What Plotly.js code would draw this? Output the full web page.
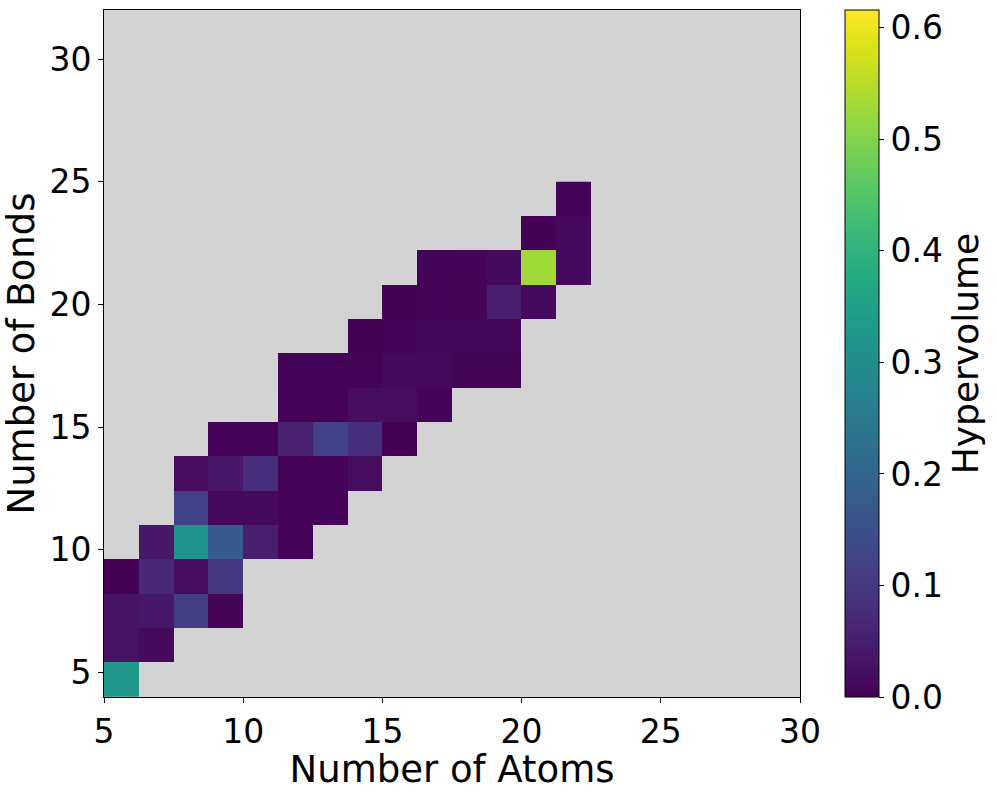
<!DOCTYPE html>
<html>
<head>
<meta charset="utf-8">
<script src="https://cdn.plot.ly/plotly-3.0.1.min.js"></script>
<style>html,body{margin:0;padding:0;background:#fff;}#chart{width:996px;height:791px;}</style>
</head>
<body>
<div id="chart"></div>
<script>
// Bin edges (Number of Atoms on x, Number of Bonds on y)
const atomEdges = [5, 6.25, 7.5, 8.75, 10, 11.25, 12.5, 13.75, 15, 16.25, 17.5, 18.75, 20, 21.25, 22.5];
const bondEdges = [4, 5.4, 6.8, 8.2, 9.6, 11, 12.4, 13.8, 15.2, 16.6, 18, 19.4, 20.8, 22.2, 23.6, 25];
const axisTicks = [5, 10, 15, 20, 25, 30];
const colorTicks = [0, 0.1, 0.2, 0.3, 0.4, 0.5, 0.6];
const N = null;
// Hypervolume per (bond bin row, atom bin column)
const hypervolume = [
  [0.33, N, N, N, N, N, N, N, N, N, N, N, N, N],
  [0.03, 0.015, N, N, N, N, N, N, N, N, N, N, N, N],
  [0.03, 0.035, 0.11, 0.006, N, N, N, N, N, N, N, N, N, N],
  [0.002, 0.07, 0.02, 0.10, N, N, N, N, N, N, N, N, N, N],
  [N, 0.04, 0.32, 0.17, 0.05, 0.005, N, N, N, N, N, N, N, N],
  [N, N, 0.115, 0.012, 0.012, 0.005, 0.005, N, N, N, N, N, N, N],
  [N, N, 0.02, 0.035, 0.08, 0.004, 0.005, 0.02, N, N, N, N, N, N],
  [N, N, N, 0.005, 0.004, 0.055, 0.12, 0.08, 0.002, N, N, N, N, N],
  [N, N, N, N, N, 0.005, 0.004, 0.02, 0.02, 0.005, N, N, N, N],
  [N, N, N, N, N, 0.003, 0.004, 0.004, 0.012, 0.012, 0.006, 0.006, N, N],
  [N, N, N, N, N, N, N, 0.002, 0.004, 0.01, 0.01, 0.01, N, N],
  [N, N, N, N, N, N, N, N, 0.002, 0.004, 0.006, 0.05, 0.015, N],
  [N, N, N, N, N, N, N, N, N, 0.003, 0.005, 0.015, 0.53, 0.015],
  [N, N, N, N, N, N, N, N, N, N, N, N, 0.002, 0.012],
  [N, N, N, N, N, N, N, N, N, N, N, N, N, 0.005]
];
const zMax = 0.616;

const font = 'DejaVu Sans, sans-serif';
const trace = {
  type: 'heatmap',
  x: atomEdges,
  y: bondEdges,
  z: hypervolume,
  zmin: 0,
  zmax: zMax,
  colorscale: 'Viridis',
  hoverongaps: false,
  colorbar: {
    x: 1.0645, xanchor: 'left', xpad: 0,
    y: 0.5, yanchor: 'middle', ypad: 0,
    len: 1, lenmode: 'fraction',
    thickness: 34, thicknessmode: 'pixels',
    outlinewidth: 1, outlinecolor: '#000',
    ticks: 'outside', ticklen: 5, tickwidth: 1, tickcolor: '#000',
    tickmode: 'array', tickvals: colorTicks, ticktext: colorTicks.map(v => v.toFixed(1)),
    tickfont: {family: font, size: 33, color: '#000'},
    title: {text: 'Hypervolume', side: 'right', font: {family: font, size: 36, color: '#000'}}
  }
};
const axisCommon = {
  tickmode: 'array', tickvals: axisTicks,
  ticks: 'outside', ticklen: 5, tickwidth: 1, tickcolor: '#000',
  showline: true, linecolor: '#000', linewidth: 1, mirror: true,
  showgrid: false, zeroline: false,
  tickfont: {family: font, size: 33, color: '#000'}
};
const layout = {
  width: 996, height: 791,
  margin: {l: 104, r: 194, t: 10, b: 94},
  paper_bgcolor: '#fff',
  plot_bgcolor: '#d3d3d3',
  showlegend: false,
  xaxis: Object.assign({}, axisCommon, {
    range: [5, 30],
    title: {text: 'Number of Atoms', font: {family: font, size: 37, color: '#000'}, standoff: 0}
  }),
  yaxis: Object.assign({}, axisCommon, {
    range: [4, 32],
    title: {text: 'Number of Bonds', font: {family: font, size: 37, color: '#000'}, standoff: 4}
  })
};
Plotly.newPlot('chart', [trace], layout, {staticPlot: true, displayModeBar: false});
</script>
</body>
</html>
